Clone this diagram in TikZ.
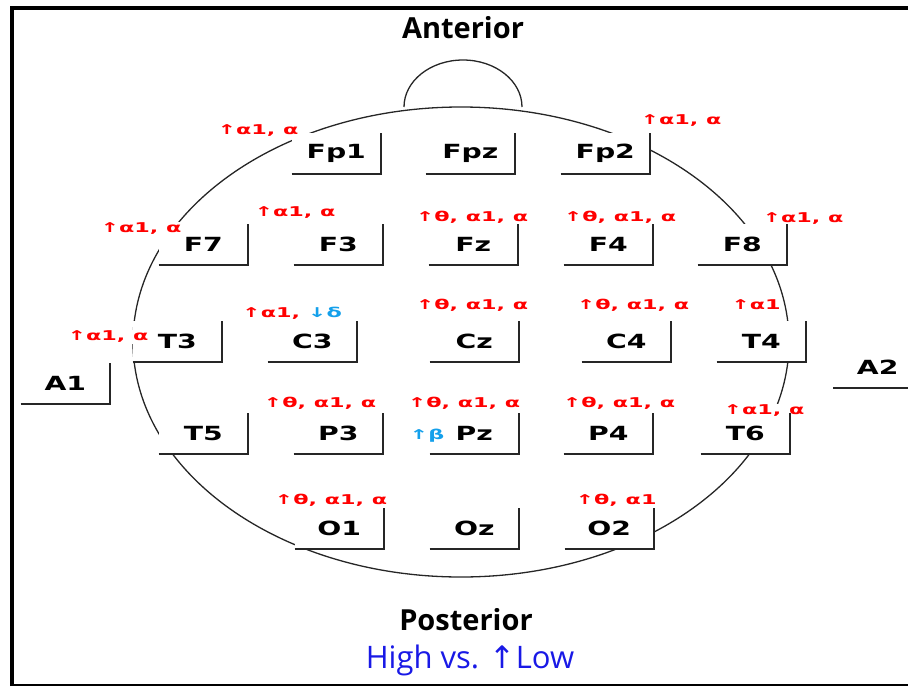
\documentclass[tikz,border=0pt]{standalone}
\usepackage{fontspec}
\setmainfont{Open Sans}
\newfontfamily\elecfont{DejaVu Sans}[FakeStretch=1.45]
\newfontfamily\annfont{DejaVu Sans}[FakeStretch=1.65]
\newfontfamily\arrowfont{DejaVu Sans}
\definecolor{lowblue}{RGB}{20,160,235}
\definecolor{titleblue}{RGB}{25,25,230}

\begin{document}
\begin{tikzpicture}[x=1pt, y=-1pt,
  electrode/.style={fill=white, minimum width=89pt, minimum height=41pt, inner sep=0pt, anchor=south east, font=\elecfont\bfseries\fontsize{19.5}{19.5}\selectfont},
  boxline/.style={line width=1.8pt, black!85},
  change/.style={fill=white, inner sep=1pt, text=red, font=\annfont\bfseries\fontsize{13.5}{13.5}\selectfont},
  headline/.style={line width=1.3pt, black!85},
  title/.style={font=\bfseries\fontsize{29}{29}\selectfont}]
\useasboundingbox (0,0) rectangle (908,686);
\draw[line width=4pt] (12,686) -- (12,8) -- (908,8);
\draw[line width=1.5pt] (12,685) -- (908,685);

\node[title] (anterior) at (463,28) {Anterior};
\node[title] (posterior) at (466,620) {Posterior};
\node[font=\fontsize{31}{31}\selectfont, text=titleblue] (legend) at (470,660) {High vs. {\arrowfont ↑}Low};

\draw[headline] (404,107) arc[start angle=180, end angle=360, x radius=59, y radius=47];
\draw[headline] (461,342) ellipse [x radius=328, y radius=235];

\node[electrode] (Fp1) at (381,174) {Fp1};
\node[electrode] (Fpz) at (515,174) {Fpz};
\node[electrode] (Fp2) at (650,174) {Fp2};
\node[electrode] (F7) at (248,265) {F7};
\node[electrode] (F3) at (383,265) {F3};
\node[electrode] (Fz) at (518,265) {Fz};
\node[electrode] (F4) at (653,265) {F4};
\node[electrode] (F8) at (787,265) {F8};
\node[electrode] (T3) at (222,362) {T3};
\node[electrode] (C3) at (357,362) {C3};
\node[electrode] (Cz) at (519,362) {Cz};
\node[electrode] (C4) at (671,362) {C4};
\node[electrode] (T4) at (806,362) {T4};
\node[electrode] (T5) at (248,454) {T5};
\node[electrode] (P3) at (383,454) {P3};
\node[electrode] (Pz) at (519,454) {Pz};
\node[electrode] (P4) at (653,454) {P4};
\node[electrode] (T6) at (790,454) {T6};
\node[electrode] (O1) at (384,549) {O1};
\node[electrode] (Oz) at (519,549) {Oz};
\node[electrode] (O2) at (654,549) {O2};
\node[electrode] (A1) at (110,404) {A1};
\node[electrode, anchor=south west] (A2) at (833,388) {A2};

\node[change] (cFp1) at (258,131) {↑α1, α};
\node[change] (cFp2) at (681,121) {↑α1, α};
\node[change] (cF7) at (141,229) {↑α1, α};
\node[change] (cF3) at (295,213) {↑α1, α};
\node[change] (cFz) at (472,217) {↑θ, α1, α};
\node[change] (cF4) at (620,217) {↑θ, α1, α};
\node[change] (cF8) at (803,219) {↑α1, α};
\node[change] (cT3) at (108,337) {↑α1, α};
\node[change] (cC3) at (292,313) {↑α1, \textcolor{lowblue}{↓δ}};
\node[change] (cCz) at (472,305) {↑θ, α1, α};
\node[change] (cC4) at (633,305) {↑θ, α1, α};
\node[change] (cT4) at (756,305) {↑α1};
\node[change] (cP3) at (320,403) {↑θ, α1, α};
\node[change] (cPz) at (464,403) {↑θ, α1, α};
\node[change, text=lowblue] (bPz) at (427,436) {↑β};
\node[change] (cP4) at (619,403) {↑θ, α1, α};
\node[change] (cT6) at (764,411) {↑α1, α};
\node[change] (cO1) at (331,500) {↑θ, α1, α};
\node[change] (cO2) at (616,500) {↑θ, α1};

\foreach \e in {Fp1,Fpz,Fp2,F7,F3,Fz,F4,F8,T3,C3,Cz,C4,T4,T5,P3,Pz,P4,T6,O1,Oz,O2,A1}
  \draw[boxline] (\e.south west) -- (\e.south east) -- (\e.north east);
\draw[boxline] (A2.south west) -- (A2.south east);
\end{tikzpicture}
\end{document}
